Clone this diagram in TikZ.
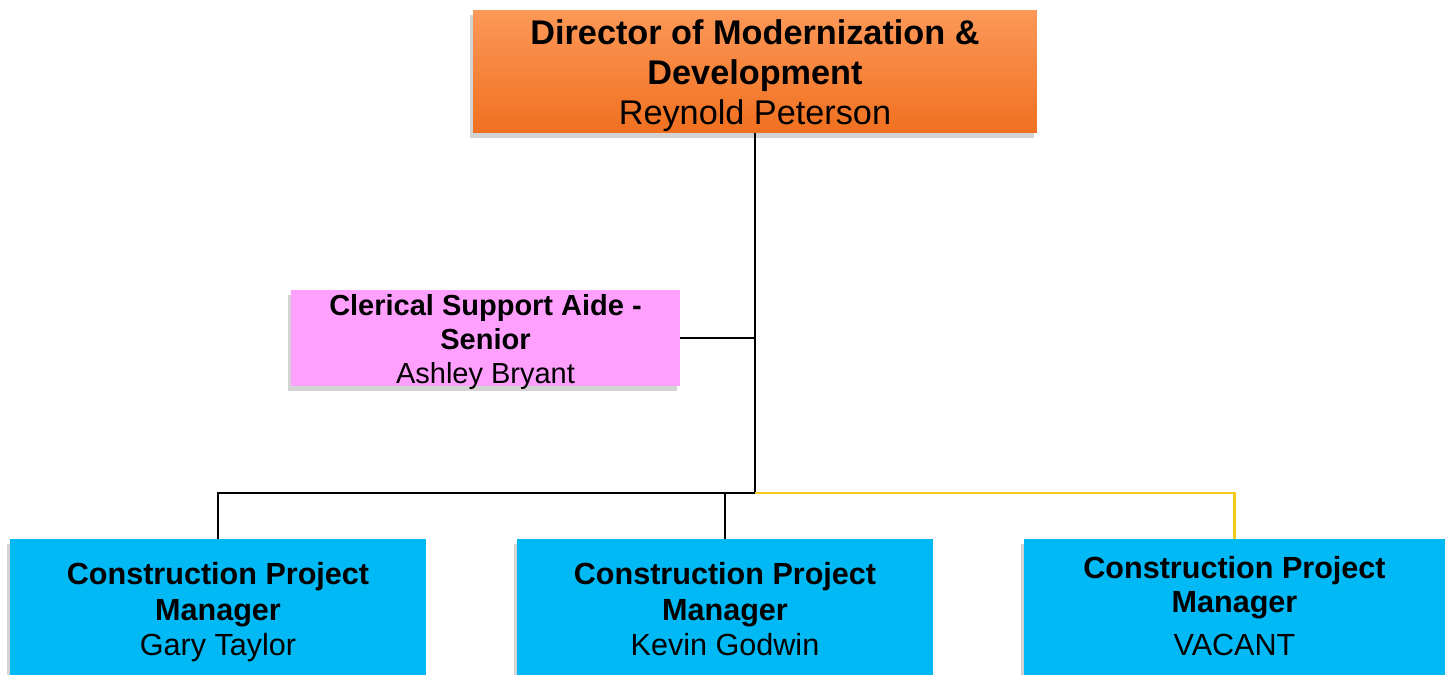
\documentclass[tikz,border=0pt]{standalone}
\usepackage{fontspec}
\setmainfont{Liberation Sans}
\usetikzlibrary{shadows}

\definecolor{dirtop}{RGB}{252,152,88}
\definecolor{dirbot}{RGB}{240,112,32}
\definecolor{aidepink}{RGB}{255,160,255}
\definecolor{pmblue}{RGB}{0,185,245}
\definecolor{busgold}{RGB}{245,200,30}

\tikzset{
    orgbox/.style={rectangle, inner sep=0pt, align=center, text depth=0pt,
        drop shadow={shadow xshift=-1.5pt, shadow yshift=-3pt, opacity=0.35}},
    dirbox/.style={orgbox, top color=dirtop, bottom color=dirbot,
        minimum width=11.28cm, minimum height=2.46cm,
        font=\fontsize{19.5}{22.7}\selectfont, text height=60pt},
    aidebox/.style={orgbox, fill=aidepink, minimum width=7.78cm, minimum height=1.92cm,
        font=\fontsize{16.5}{19.3}\selectfont, text height=51.6pt},
    pmbox/.style={orgbox, fill=pmblue, minimum width=8.32cm, minimum height=2.8cm,
        font=\fontsize{17.4}{20.4}\selectfont, text height=53.4pt},
    link/.style={black, line width=0.8pt},
    goldlink/.style={busgold, line width=1.3pt}
}

\begin{document}
\begin{tikzpicture}[x=0.02cm, y=-0.02cm]
        \useasboundingbox (0,0) rectangle (1445,675);

        \node[dirbox] (dir) at (755,71.5) {\textbf{Director of Modernization \&}\\\textbf{Development}\\Reynold Peterson};
        \node[aidebox] (aide) at (485.5,338) {\textbf{Clerical Support Aide -}\\\textbf{Senior}\\Ashley Bryant};

        \node[pmbox] (pm1) at (218,609) {\textbf{Construction Project}\\\textbf{Manager}\\Gary Taylor};
        \node[pmbox] (pm2) at (725,609) {\textbf{Construction Project}\\\textbf{Manager}\\Kevin Godwin};
        \node[pmbox, minimum width=8.42cm, font=\fontsize{17.4}{19.3}\selectfont] (pm3) at (1234.5,609)
            {\textbf{Construction Project}\\\textbf{Manager}\\[5.6pt]VACANT};

        \coordinate (bus) at (755,493);

        % trunk and side branch
        \draw[goldlink] (dir.south) -- (bus);
        \draw[link] (dir.south) -- (bus);
        \draw[link] (aide.east) -- (aide.east -| bus);

        % bus to the managers
        \draw[link] (bus) -| (pm1.north);
        \draw[link] (bus -| pm2.north) -- (pm2.north);
        \draw[goldlink] (bus) -| (pm3.north);
    \end{tikzpicture}
\end{document}
